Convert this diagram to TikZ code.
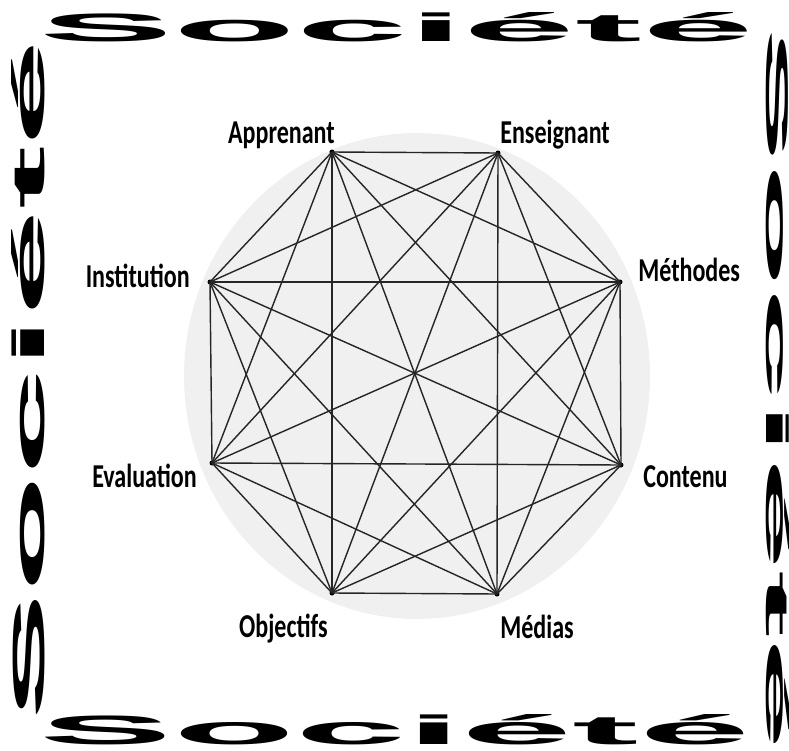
\documentclass[tikz,border=0pt]{standalone}
\usepackage{graphicx}
\usepackage{fontspec}
\setmainfont{Carlito}
\newfontfamily\cadrefont{Liberation Sans}
\usetikzlibrary{positioning}

% texte du cadre, etire a la taille voulue
\newcommand{\mot}[2]{\resizebox{#1}{#2}{\cadrefont\bfseries Soci\'et\'e}}
% etiquette etroite
\newcommand{\etiq}[1]{\scalebox{0.72}[1]{\bfseries #1}}

\begin{document}
\begin{tikzpicture}[x=0.02cm, y=-0.02cm,
    sommet/.style={circle, fill=black, inner sep=0pt, minimum size=0.1cm},
    arete/.style={black!85, line width=0.8pt},
    etiquette/.style={inner sep=0pt, font=\fontsize{19}{19}\selectfont},
    cadre/.style={inner sep=0pt}]
  \useasboundingbox (0,0) rectangle (789,751);

  % Cadre "Societe" sur les quatre cotes
  \node[cadre] (haut) at (397,27.5) {\mot{14.28cm}{0.58cm}};
  \node[cadre] (bas) at (395,730) {\mot{14.2cm}{0.6cm}};
  \node[cadre, rotate=90] (gauche) at (28.5,380) {\mot{13.6cm}{0.66cm}};
  \node[cadre, rotate=-90] (droite) at (777.5,389.5) {\mot{14.46cm}{0.46cm}};

  % Disque gris
  \fill[gray!12] (417,376) ellipse [x radius=233, y radius=243];

  % Sommets de l'octogone
  \node[sommet] (s1) at (332,152) {};
  \node[sommet] (s2) at (498,153) {};
  \node[sommet] (s3) at (620,282) {};
  \node[sommet] (s4) at (621,465) {};
  \node[sommet] (s5) at (497,594) {};
  \node[sommet] (s6) at (332,593) {};
  \node[sommet] (s7) at (212,463) {};
  \node[sommet] (s8) at (210,282) {};

  % Chaque sommet relie a tous les autres
  \foreach \i in {1,...,7} {
    \pgfmathtruncatemacro{\suiv}{\i+1}
    \foreach \j in {\suiv,...,8}
      \draw[arete] (s\i.center) -- (s\j.center);
  }

  % Etiquettes
  \node[etiquette, anchor=base east] (apprenant) at (335,143) {\etiq{Apprenant}};
  \node[etiquette, anchor=base west] (enseignant) at (500,143) {\etiq{Enseignant}};
  \node[etiquette, anchor=base west] (methodes) at (638,281) {\etiq{Méthodes}};
  \node[etiquette, anchor=base west] (contenu) at (643,487) {\etiq{Contenu}};
  \node[etiquette, anchor=base west] (medias) at (500,638) {\etiq{Médias}};
  \node[etiquette, anchor=base east] (objectifs) at (328,637) {\etiq{Objectifs}};
  \node[etiquette, anchor=base east] (evaluation) at (197,487) {\etiq{Evaluation}};
  \node[etiquette, anchor=base east] (institution) at (190,287) {\etiq{Institution}};
\end{tikzpicture}
\end{document}
